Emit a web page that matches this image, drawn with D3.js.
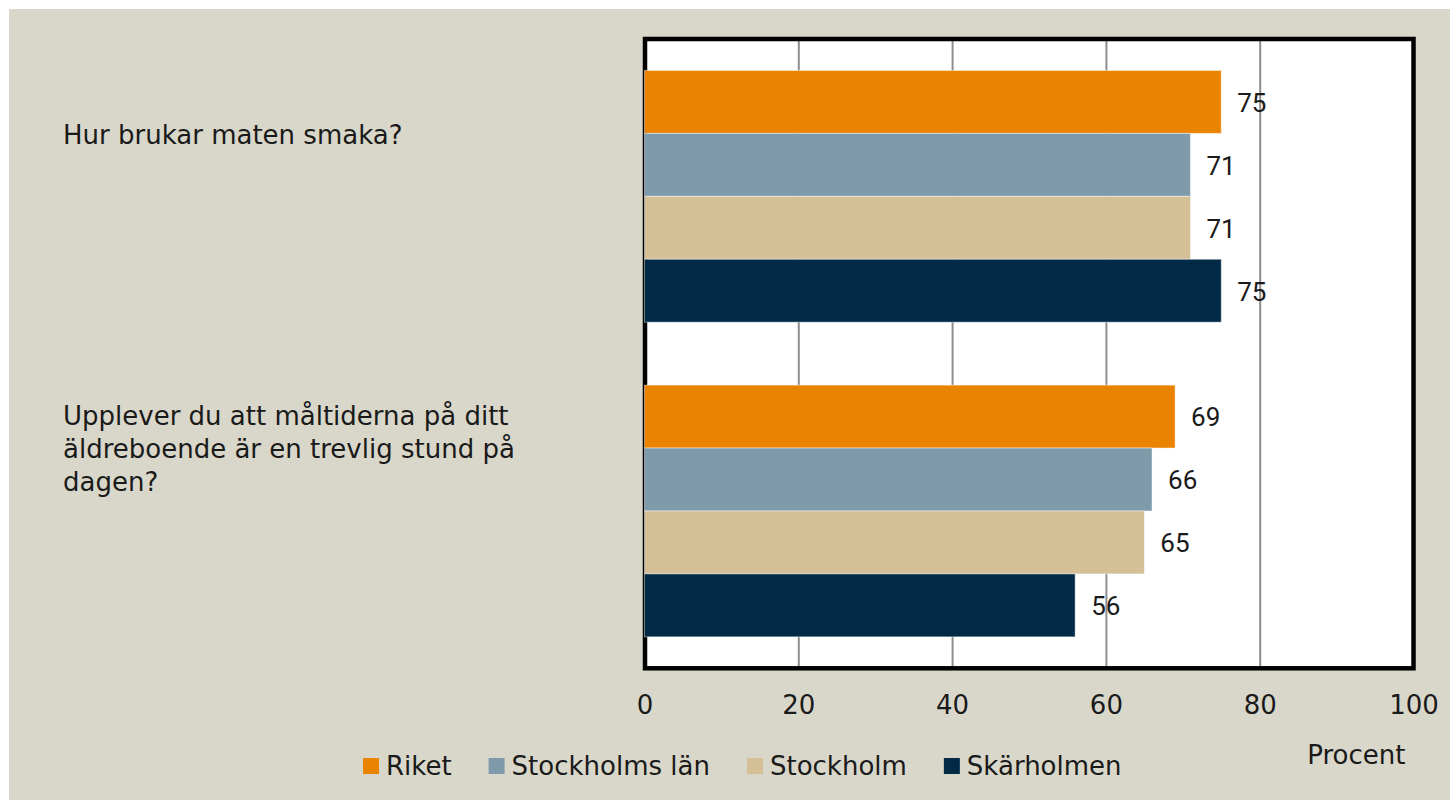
<!DOCTYPE html>
<html>
<head>
<meta charset="utf-8">
<script src="https://cdn.jsdelivr.net/npm/d3@7"></script>
<style>
  body { margin: 0; background: #fff; }
  text { font-family: "DejaVu Sans", sans-serif; fill: #1a1a1a; }
</style>
</head>
<body>
<div class="box"></div>
<script>
// Data
const categories = [
  'Hur brukar maten smaka?',
  'Upplever du att måltiderna på ditt äldreboende är en trevlig stund på dagen?'
];
const seriesNames = ['Riket', 'Stockholms län', 'Stockholm', 'Skärholmen'];
const riket = [75, 69];
const stockholmsLan = [71, 66];
const stockholm = [71, 65];
const skarholmen = [75, 56];
const xTicks = [0, 20, 40, 60, 80, 100];
const axisTitle = 'Procent';

const colors = ['#EA8400', '#7E9AAB', '#D4BF96', '#002A45'];
const seriesValues = [riket, stockholmsLan, stockholm, skarholmen];

// table built from the arrays above
const rows = [];
categories.forEach((c, ci) => {
  seriesNames.forEach((s, si) => {
    rows.push({cat: c, serie: s, value: seriesValues[si][ci], color: colors[si]});
  });
});

const svg = d3.select('.box')
              .append('svg')
              .attr('width', 1450)
              .attr('height', 800);

// beige panel
svg.append('rect')
   .attr('x', 9).attr('y', 9)
   .attr('width', 1441).attr('height', 791)
   .attr('fill', '#D9D7CA');

// Dimensions of the plot area
const plot = {left: 645, top: 39, right: 1413.5, bottom: 668.3};

const x = d3.scaleLinear()
            .domain([0, 100])
            .range([plot.left - 0.5, plot.right]);

const y = d3.scaleBand()
            .domain(categories)
            .range([plot.top, plot.bottom])
            .paddingInner(0.2)
            .paddingOuter(0.1);

const ySub = d3.scaleBand()
               .domain(seriesNames)
               .range([0, y.bandwidth()]);

// white plot background
svg.append('rect')
   .attr('x', plot.left).attr('y', plot.top)
   .attr('width', plot.right - plot.left)
   .attr('height', plot.bottom - plot.top)
   .attr('fill', '#fff');

// gridlines
const grid = d3.axisBottom(x)
               .tickValues(xTicks.filter(t => t > 0 && t < 100))
               .tickSize(-(plot.bottom - plot.top))
               .tickFormat('');
const gGrid = svg.append('g')
   .attr('transform', `translate(0, ${plot.bottom})`)
   .call(grid);
gGrid.select('.domain').remove();
gGrid.selectAll('line').attr('stroke', '#8E8E8E').attr('stroke-width', 2);

// black frame
svg.append('rect')
   .attr('x', plot.left).attr('y', plot.top)
   .attr('width', plot.right - plot.left)
   .attr('height', plot.bottom - plot.top)
   .attr('fill', 'none')
   .attr('stroke', '#000')
   .attr('stroke-width', 4.5);

// bars
svg.selectAll('rect.bar')
   .data(rows)
   .enter()
   .append('rect')
   .attr('class', 'bar')
   .attr('x', x(0))
   .attr('y', d => y(d.cat) + ySub(d.serie))
   .attr('width', d => x(d.value) - x(0))
   .attr('height', ySub.bandwidth())
   .attr('fill', d => d.color)
   .attr('stroke', 'rgba(255,255,255,0.45)')
   .attr('stroke-width', 1);

// value labels
svg.selectAll('text.val')
   .data(rows)
   .enter()
   .append('text')
   .attr('class', 'val')
   .attr('x', d => x(d.value) + 16)
   .attr('y', d => y(d.cat) + ySub(d.serie) + ySub.bandwidth() / 2)
   .attr('dy', '0.38em')
   .style('font-family', 'Roboto, sans-serif')
   .style('font-size', '26px')
   .text(d => d.value);

// x axis
const axeX = d3.axisBottom(x)
               .tickValues(xTicks)
               .tickSize(0)
               .tickPadding(27);
const gX = svg.append('g')
   .attr('transform', `translate(0, ${plot.bottom})`)
   .call(axeX);
gX.select('.domain').remove();
gX.selectAll('text')
  .style('font-family', '"DejaVu Sans", sans-serif')
  .style('font-size', '26px')
  .attr('fill', '#1a1a1a');

svg.append('text')
   .attr('x', x(100) - 8)
   .attr('y', 764)
   .attr('text-anchor', 'end')
   .style('font-size', '26px')
   .text(axisTitle);

// category labels, wrapped
const lineH = 33;
categories.forEach(c => {
  const t = svg.append('text').style('font-size', '26px');
  const words = c.split(' ');
  const lines = [];
  let line = [];
  const probe = t.append('tspan');
  words.forEach(w => {
    line.push(w);
    probe.text(line.join(' '));
    if (probe.node().getComputedTextLength() > 480 && line.length > 1) {
      line.pop();
      lines.push(line.join(' '));
      line = [w];
    }
  });
  lines.push(line.join(' '));
  probe.remove();
  const mid = y(c) + y.bandwidth() / 2 - 62;
  const first = mid - (lines.length - 1) * lineH / 2 + 9.5;
  lines.forEach((l, i) => {
    t.append('tspan')
     .attr('x', 63)
     .attr('y', first + i * lineH)
     .text(l);
  });
});

// legend
const legend = svg.append('g');
let lx = 363;
seriesNames.forEach((s, i) => {
  legend.append('rect')
        .attr('x', lx).attr('y', 758)
        .attr('width', 16).attr('height', 16)
        .attr('fill', colors[i]);
  const t = legend.append('text')
        .attr('x', lx + 23).attr('y', 775)
        .style('font-size', '26px')
        .text(s);
  lx += 23 + t.node().getComputedTextLength() + 37;
});
</script>
</body>
</html>
